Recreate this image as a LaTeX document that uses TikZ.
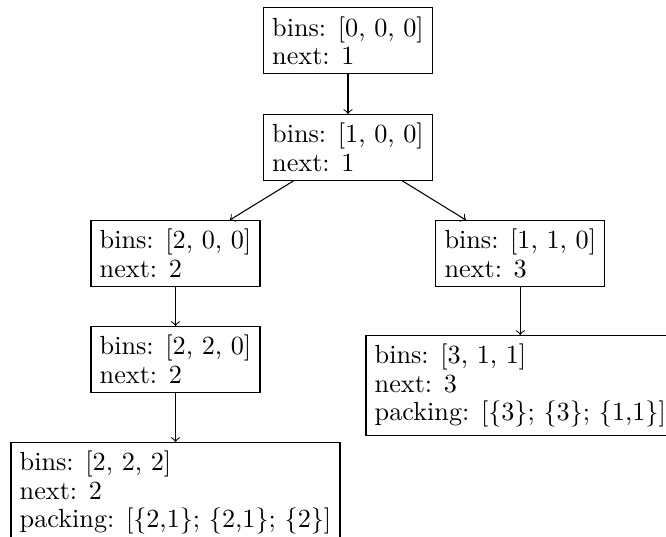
\documentclass[tikz,border=0pt]{standalone}
\tikzset{
  state/.style={draw, align=left, inner sep=0.3333em, anchor=north,
    font=\fontsize{10}{10.8}\selectfont},
  edge/.style={->}
}
\begin{document}
\begin{tikzpicture}[x=0.3817pt,y=-0.3817pt]
\useasboundingbox (0,0) rectangle (666,536);
\node[state] (a) at (348,7.3) {bins: [0, 0, 0]\\next: 1};
\node[state] (b) at (348,114) {bins: [1, 0, 0]\\next: 1};
\node[state] (c) at (175.5,220) {bins: [2, 0, 0]\\next: 2};
\node[state] (d) at (520.3,220) {bins: [1, 1, 0]\\next: 3};
\node[state] (e) at (175.5,326) {bins: [2, 2, 0]\\next: 2};
\node[state] (f) at (520.3,335) {bins: [3, 1, 1]\\next: 3\\packing: [\{3\}; \{3\}; \{1,1\}]};
\node[state] (g) at (175.5,442) {bins: [2, 2, 2]\\next: 2\\packing: [\{2,1\}; \{2,1\}; \{2\}]};
\draw[edge] (a) -- (b);
\draw[edge] (b) -- (c);
\draw[edge] (b) -- (d);
\draw[edge] (c) -- (e);
\draw[edge] (d) -- (f);
\draw[edge] (e) -- (g);
\end{tikzpicture}
\end{document}
